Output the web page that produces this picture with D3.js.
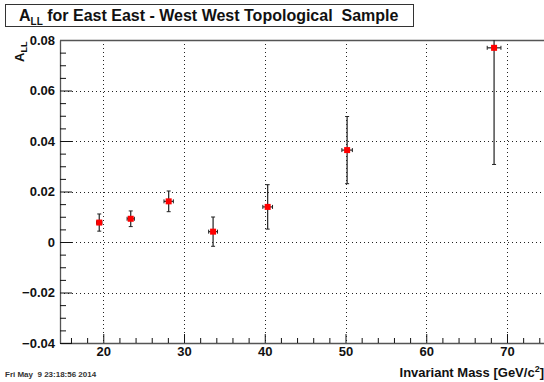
<!DOCTYPE html>
<html>
<head>
<meta charset="utf-8">
<script src="https://cdn.jsdelivr.net/npm/d3@7"></script>
<style>
  html, body { margin: 0; padding: 0; background: #fff; }
  svg { display: block; font-family: "Liberation Sans", Arial, sans-serif; }
</style>
</head>
<body>
<svg id="chart" width="544" height="382"></svg>
<script>
// Invariant mass bins (GeV/c^2) and measured asymmetry
const massValues = [19.5, 23.4, 28.1, 33.6, 40.36, 50.2, 68.4];
const massErrors = [0.33, 0.45, 0.58, 0.55, 0.6, 0.65, 0.85];
const allValues  = [0.0077, 0.0092, 0.0161, 0.0041, 0.0139, 0.0364, 0.0769];
const allErrors  = [0.0034, 0.0031, 0.0041, 0.0058, 0.0088, 0.0133, 0.0462];
const xTickValues = [20, 30, 40, 50, 60, 70];
const yTickValues = [-0.04, -0.02, 0, 0.02, 0.04, 0.06, 0.08];

const svg = d3.select("#chart");
const frame = { left: 60, right: 551, top: 40, bottom: 343 };

const x = d3.scaleLinear().domain([14.64, 75.45]).range([frame.left, frame.right]);
const y = d3.scaleLinear().domain([-0.04, 0.08]).range([frame.bottom, frame.top]);

svg.append("defs").append("clipPath").attr("id", "plotclip")
  .append("rect")
  .attr("x", frame.left).attr("y", frame.top)
  .attr("width", frame.right - frame.left).attr("height", frame.bottom - frame.top);

// Dotted grid at the major ticks
const grid = svg.append("g");
grid.selectAll("line.gx").data(xTickValues).join("line")
  .attr("x1", d => Math.round(x(d)) + 0.5).attr("x2", d => Math.round(x(d)) + 0.5)
  .attr("y1", frame.top).attr("y2", frame.bottom)
  .attr("stroke", "#222").attr("stroke-width", 1).attr("stroke-dasharray", "1,3");
grid.selectAll("line.gy").data(yTickValues.filter(v => v > -0.04 && v < 0.08)).join("line")
  .attr("y1", d => Math.round(y(d)) + 0.5).attr("y2", d => Math.round(y(d)) + 0.5)
  .attr("x1", frame.left).attr("x2", frame.right)
  .attr("stroke", "#222").attr("stroke-width", 1).attr("stroke-dasharray", "1,3");

// Axes with inward ticks
const xMinor = d3.range(16, 76, 2).filter(v => v % 10 !== 0);
const yMinor = d3.range(-0.04, 0.0801, 0.005).map(v => +v.toFixed(3))
  .filter(v => Math.abs(Math.round(v / 0.02) * 0.02 - v) > 1e-6);

svg.append("g").attr("transform", `translate(0,${frame.bottom})`)
  .call(d3.axisBottom(x).tickValues(xTickValues).tickSizeInner(-9).tickSizeOuter(0).tickPadding(4).tickFormat(d3.format("d")));
svg.append("g").attr("transform", `translate(0,${frame.bottom})`)
  .call(d3.axisBottom(x).tickValues(xMinor).tickSizeInner(-5).tickSizeOuter(0).tickFormat(""))
  .call(g => g.select(".domain").remove());

svg.append("g").attr("transform", `translate(${frame.left},0)`)
  .call(d3.axisLeft(y).tickValues(yTickValues).tickSizeInner(-12).tickSizeOuter(0).tickPadding(5)
    .tickFormat(d => d === 0 ? "0" : d3.format(".2f")(d)));
svg.append("g").attr("transform", `translate(${frame.left},0)`)
  .call(d3.axisLeft(y).tickValues(yMinor).tickSizeInner(-6).tickSizeOuter(0).tickFormat(""))
  .call(g => g.select(".domain").remove());

svg.selectAll(".tick line").attr("stroke", "#111");
svg.selectAll(".domain").attr("stroke", "#555").attr("stroke-width", 1.3);
svg.selectAll(".tick text").attr("font-size", 13).attr("font-weight", "bold").attr("fill", "#111")
  .attr("font-family", "'Liberation Sans', Arial, sans-serif");

// Top frame edge
svg.append("line").attr("x1", frame.left).attr("x2", frame.right)
  .attr("y1", frame.top + 0.5).attr("y2", frame.top + 0.5)
  .attr("stroke", "#555").attr("stroke-width", 1.3);

// Data points with error bars
const pts = massValues.map((m, i) => ({ m, dm: massErrors[i], a: allValues[i], da: allErrors[i] }));
const plot = svg.append("g").attr("clip-path", "url(#plotclip)");
const ink = "#222";
const cap = 2;

plot.selectAll("line.ey").data(pts).join("line")
  .attr("x1", d => x(d.m)).attr("x2", d => x(d.m))
  .attr("y1", d => y(d.a - d.da)).attr("y2", d => y(d.a + d.da))
  .attr("stroke", ink).attr("stroke-width", 1.2);
plot.selectAll("line.eyc1").data(pts).join("line")
  .attr("x1", d => x(d.m) - cap).attr("x2", d => x(d.m) + cap)
  .attr("y1", d => y(d.a - d.da)).attr("y2", d => y(d.a - d.da))
  .attr("stroke", ink).attr("stroke-width", 1);
plot.selectAll("line.eyc2").data(pts).join("line")
  .attr("x1", d => x(d.m) - cap).attr("x2", d => x(d.m) + cap)
  .attr("y1", d => y(d.a + d.da)).attr("y2", d => y(d.a + d.da))
  .attr("stroke", ink).attr("stroke-width", 1);
plot.selectAll("line.ex").data(pts).join("line")
  .attr("x1", d => x(d.m - d.dm)).attr("x2", d => x(d.m + d.dm))
  .attr("y1", d => y(d.a)).attr("y2", d => y(d.a))
  .attr("stroke", ink).attr("stroke-width", 1.2);
plot.selectAll("line.exc1").data(pts).join("line")
  .attr("x1", d => x(d.m - d.dm)).attr("x2", d => x(d.m - d.dm))
  .attr("y1", d => y(d.a) - cap).attr("y2", d => y(d.a) + cap)
  .attr("stroke", ink).attr("stroke-width", 1);
plot.selectAll("line.exc2").data(pts).join("line")
  .attr("x1", d => x(d.m + d.dm)).attr("x2", d => x(d.m + d.dm))
  .attr("y1", d => y(d.a) - cap).attr("y2", d => y(d.a) + cap)
  .attr("stroke", ink).attr("stroke-width", 1);
plot.selectAll("rect.mk").data(pts).join("rect")
  .attr("x", d => x(d.m) - 3).attr("y", d => y(d.a) - 3)
  .attr("width", 6).attr("height", 6).attr("fill", "#ff0000");

// Title box
svg.append("rect").attr("x", 5.5).attr("y", 4.5).attr("width", 408).attr("height", 22)
  .attr("fill", "#fff").attr("stroke", "#333").attr("stroke-width", 1);
const title = svg.append("text").attr("x", 19).attr("y", 21)
  .attr("font-size", 16).attr("font-weight", "bold").attr("fill", "#111")
  .attr("xml:space", "preserve");
title.append("tspan").text("A");
title.append("tspan").attr("font-size", 10).attr("dy", 4).text("LL");
title.append("tspan").attr("dy", -4).text(" for East East - West West Topological  Sample");

// Axis titles
const yl = svg.append("text").attr("transform", "translate(24,62) rotate(-90)")
  .attr("font-size", 13).attr("font-weight", "bold").attr("fill", "#111");
yl.append("tspan").text("A");
yl.append("tspan").attr("font-size", 9).attr("dy", 3).text("LL");

const xl = svg.append("text").attr("x", 544).attr("y", 377).attr("text-anchor", "end")
  .attr("font-size", 13).attr("font-weight", "bold").attr("fill", "#111");
xl.append("tspan").text("Invariant Mass [GeV/c");
xl.append("tspan").attr("font-size", 9).attr("dy", -5).text("2");
xl.append("tspan").attr("dy", 5).text("]");

// Timestamp
svg.append("text").attr("x", 5).attr("y", 377).attr("font-size", 8).attr("font-weight", "bold")
  .attr("fill", "#333").attr("xml:space", "preserve").text("Fri May  9 23:18:56 2014");
</script>
</body>
</html>
